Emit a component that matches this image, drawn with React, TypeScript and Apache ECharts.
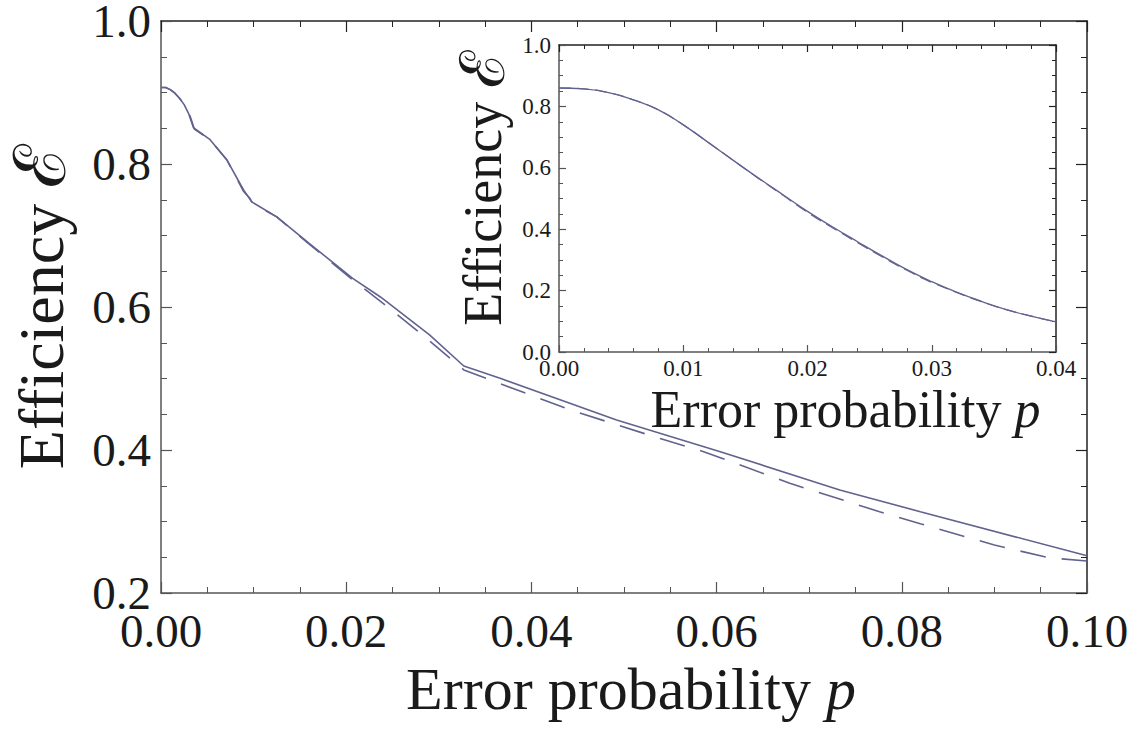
import React, { useEffect, useRef } from "react";
import * as echarts from "echarts";

// Main plot data
const mainSolidP = [0, 0.0005, 0.001, 0.0015, 0.002, 0.0025, 0.003, 0.0035, 0.0053, 0.0071, 0.0089, 0.0098, 0.0125, 0.016, 0.0207, 0.0237, 0.029, 0.0327, 0.0367, 0.0492, 0.0604, 0.0733, 0.082, 0.1];
const mainSolidE = [0.907, 0.907, 0.904, 0.899, 0.892, 0.883, 0.87, 0.851, 0.834, 0.806, 0.764, 0.747, 0.726, 0.689, 0.64, 0.614, 0.561, 0.5175, 0.5, 0.442, 0.3977, 0.344, 0.3137, 0.252];

const mainDashedP = [0, 0.0005, 0.001, 0.0015, 0.002, 0.0025, 0.003, 0.0033, 0.0036, 0.0053, 0.0071, 0.0089, 0.0096, 0.0099, 0.0125, 0.016, 0.0207, 0.0247, 0.0287, 0.0327, 0.037, 0.0442, 0.0539, 0.0586, 0.0679, 0.0776, 0.082, 0.09, 0.096, 0.1];
const mainDashedE = [0.907, 0.907, 0.904, 0.899, 0.892, 0.883, 0.872, 0.861, 0.849, 0.834, 0.806, 0.762, 0.752, 0.745, 0.726, 0.688, 0.638, 0.598, 0.556, 0.512, 0.491, 0.456, 0.416, 0.3977, 0.3534, 0.3137, 0.297, 0.267, 0.249, 0.2448];

// Inset data
const insetP = [0, 0.002, 0.004, 0.006, 0.008, 0.01, 0.012, 0.014, 0.016, 0.018, 0.02, 0.022, 0.024, 0.026, 0.028, 0.03, 0.032, 0.034, 0.036, 0.038, 0.04];
const insetSolidE = [0.86, 0.857, 0.845, 0.821, 0.789, 0.74, 0.683, 0.625, 0.568, 0.513, 0.458, 0.408, 0.36, 0.313, 0.268, 0.229, 0.195, 0.165, 0.138, 0.117, 0.098];
const insetDashedE = [0.86, 0.857, 0.845, 0.821, 0.789, 0.74, 0.683, 0.625, 0.567, 0.511, 0.455, 0.405, 0.357, 0.31, 0.266, 0.227, 0.194, 0.164, 0.138, 0.117, 0.098];

const mainXTicks = [0, 0.1, 0.02];
const mainYTicks = [0.2, 1.0, 0.2];
const insetXTicks = [0, 0.04, 0.01];
const insetYTicks = [0, 1.0, 0.2];

const FONT = "'Liberation Serif', 'Times New Roman', 'DejaVu Serif', serif";
const LINE = "#62628f";
const TEXT = "#1a1a1a";
const AX1 = "#555";
const AX2 = "#222";

function pairs(p: number[], e: number[]) {
  return p.map((v, i) => [v, e[i]]);
}

function makeAxis(opts: any) {
  const { gridIndex, position, range, digits, labelSize, labelMargin, tickLen, minorLen, minorSplit, color, showLabel, name, nameSize, nameGap, namePad, scriptSize } = opts;
  const ns = nameSize || 12;
  return {
    type: "value",
    gridIndex,
    position,
    min: range[0],
    max: range[1],
    interval: range[2],
    axisLine: { show: true, onZero: false, lineStyle: { color, width: 1.5 } },
    axisTick: { show: true, inside: true, length: tickLen, lineStyle: { color, width: 1.2 } },
    minorTick: { show: true, splitNumber: minorSplit, length: minorLen, lineStyle: { color, width: 1 } },
    splitLine: { show: false },
    axisLabel: {
      show: showLabel,
      showMinLabel: true,
      showMaxLabel: true,
      fontSize: labelSize,
      lineHeight: Math.round(labelSize * 0.85),
      fontFamily: FONT,
      color: TEXT,
      margin: labelMargin,
      formatter: (v: number) => v.toFixed(digits),
    },
    name: name || "",
    nameLocation: "middle",
    nameGap: nameGap || 0,
    nameTextStyle: {
      fontSize: ns,
      fontFamily: FONT,
      color: TEXT,
      lineHeight: ns,
      padding: namePad || 0,
      rich: {
        t: { fontSize: ns, fontFamily: FONT, color: TEXT, lineHeight: ns },
        i: { fontStyle: "italic", fontSize: ns, fontFamily: FONT, color: TEXT, lineHeight: ns },
        s: { fontSize: scriptSize || ns, fontFamily: FONT, color: TEXT, lineHeight: ns },
      },
    },
  };
}

export default function App() {
  const ref = useRef<HTMLDivElement>(null);
  useEffect(() => {
    const chart = echarts.init(ref.current!, null, { renderer: "svg" });
    const option: any = {
      animation: false,
      backgroundColor: "#fff",
      grid: [
        { left: 161, top: 21, width: 926, height: 572, containLabel: false, outerBoundsMode: "none" },
        { left: 559, top: 45, width: 497, height: 307, containLabel: false, outerBoundsMode: "none" },
      ],
      xAxis: [
        makeAxis({ gridIndex: 0, position: "bottom", range: mainXTicks, digits: 2, labelSize: 47, labelMargin: 18, tickLen: 11, minorLen: 6, minorSplit: 4, color: AX1, showLabel: true, name: "{t|Error probability }{i|p}", nameSize: 60, nameGap: 64, namePad: [0, 0, 0, 14] }),
        makeAxis({ gridIndex: 0, position: "top", range: mainXTicks, digits: 2, labelSize: 47, labelMargin: 14, tickLen: 11, minorLen: 6, minorSplit: 4, color: AX2, showLabel: false }),
        makeAxis({ gridIndex: 1, position: "bottom", range: insetXTicks, digits: 2, labelSize: 23, labelMargin: 6, tickLen: 7, minorLen: 4, minorSplit: 5, color: AX1, showLabel: true, name: "{t|Error probability }{i|p}", nameSize: 52, nameGap: 31, namePad: [0, 0, 0, 76] }),
        makeAxis({ gridIndex: 1, position: "top", range: insetXTicks, digits: 2, labelSize: 23, labelMargin: 5, tickLen: 7, minorLen: 4, minorSplit: 5, color: AX2, showLabel: false }),
      ],
      yAxis: [
        makeAxis({ gridIndex: 0, position: "left", range: mainYTicks, digits: 1, labelSize: 47, labelMargin: 10, tickLen: 11, minorLen: 6, minorSplit: 4, color: AX1, showLabel: true, name: "{t|Efficiency }{s|ℰ}", nameSize: 64, scriptSize: 72, nameGap: 88, namePad: [0, 0, 0, 0] }),
        makeAxis({ gridIndex: 0, position: "right", range: mainYTicks, digits: 1, labelSize: 47, labelMargin: 10, tickLen: 11, minorLen: 6, minorSplit: 4, color: AX2, showLabel: false }),
        makeAxis({ gridIndex: 1, position: "left", range: insetYTicks, digits: 1, labelSize: 23, labelMargin: 8, tickLen: 7, minorLen: 4, minorSplit: 4, color: AX1, showLabel: true, name: "{t|Efficiency }{s|ℰ}", nameSize: 54, scriptSize: 62, nameGap: 49, namePad: [0, 0, 0, 20] }),
        makeAxis({ gridIndex: 1, position: "right", range: insetYTicks, digits: 1, labelSize: 23, labelMargin: 8, tickLen: 7, minorLen: 4, minorSplit: 4, color: AX2, showLabel: false }),
      ],
      series: [
        { type: "line", xAxisIndex: 0, yAxisIndex: 0, data: pairs(mainSolidP, mainSolidE), showSymbol: false, symbol: "none", lineStyle: { color: LINE, width: 1.6 } },
        { type: "line", xAxisIndex: 0, yAxisIndex: 0, data: pairs(mainDashedP, mainDashedE), showSymbol: false, symbol: "none", lineStyle: { color: LINE, width: 1.6, type: [26, 16] } },
        { type: "line", xAxisIndex: 2, yAxisIndex: 2, data: pairs(insetP, insetSolidE), showSymbol: false, symbol: "none", smooth: true, lineStyle: { color: LINE, width: 1.4 } },
        { type: "line", xAxisIndex: 2, yAxisIndex: 2, data: pairs(insetP, insetDashedE), showSymbol: false, symbol: "none", smooth: true, lineStyle: { color: LINE, width: 1.2, type: [12, 6] } },
      ],
    };
    chart.setOption(option);
    return () => chart.dispose();
  }, []);
  return <div ref={ref} style={{ position: "fixed", left: 0, top: 0, width: 1137, height: 730 }} />;
}
